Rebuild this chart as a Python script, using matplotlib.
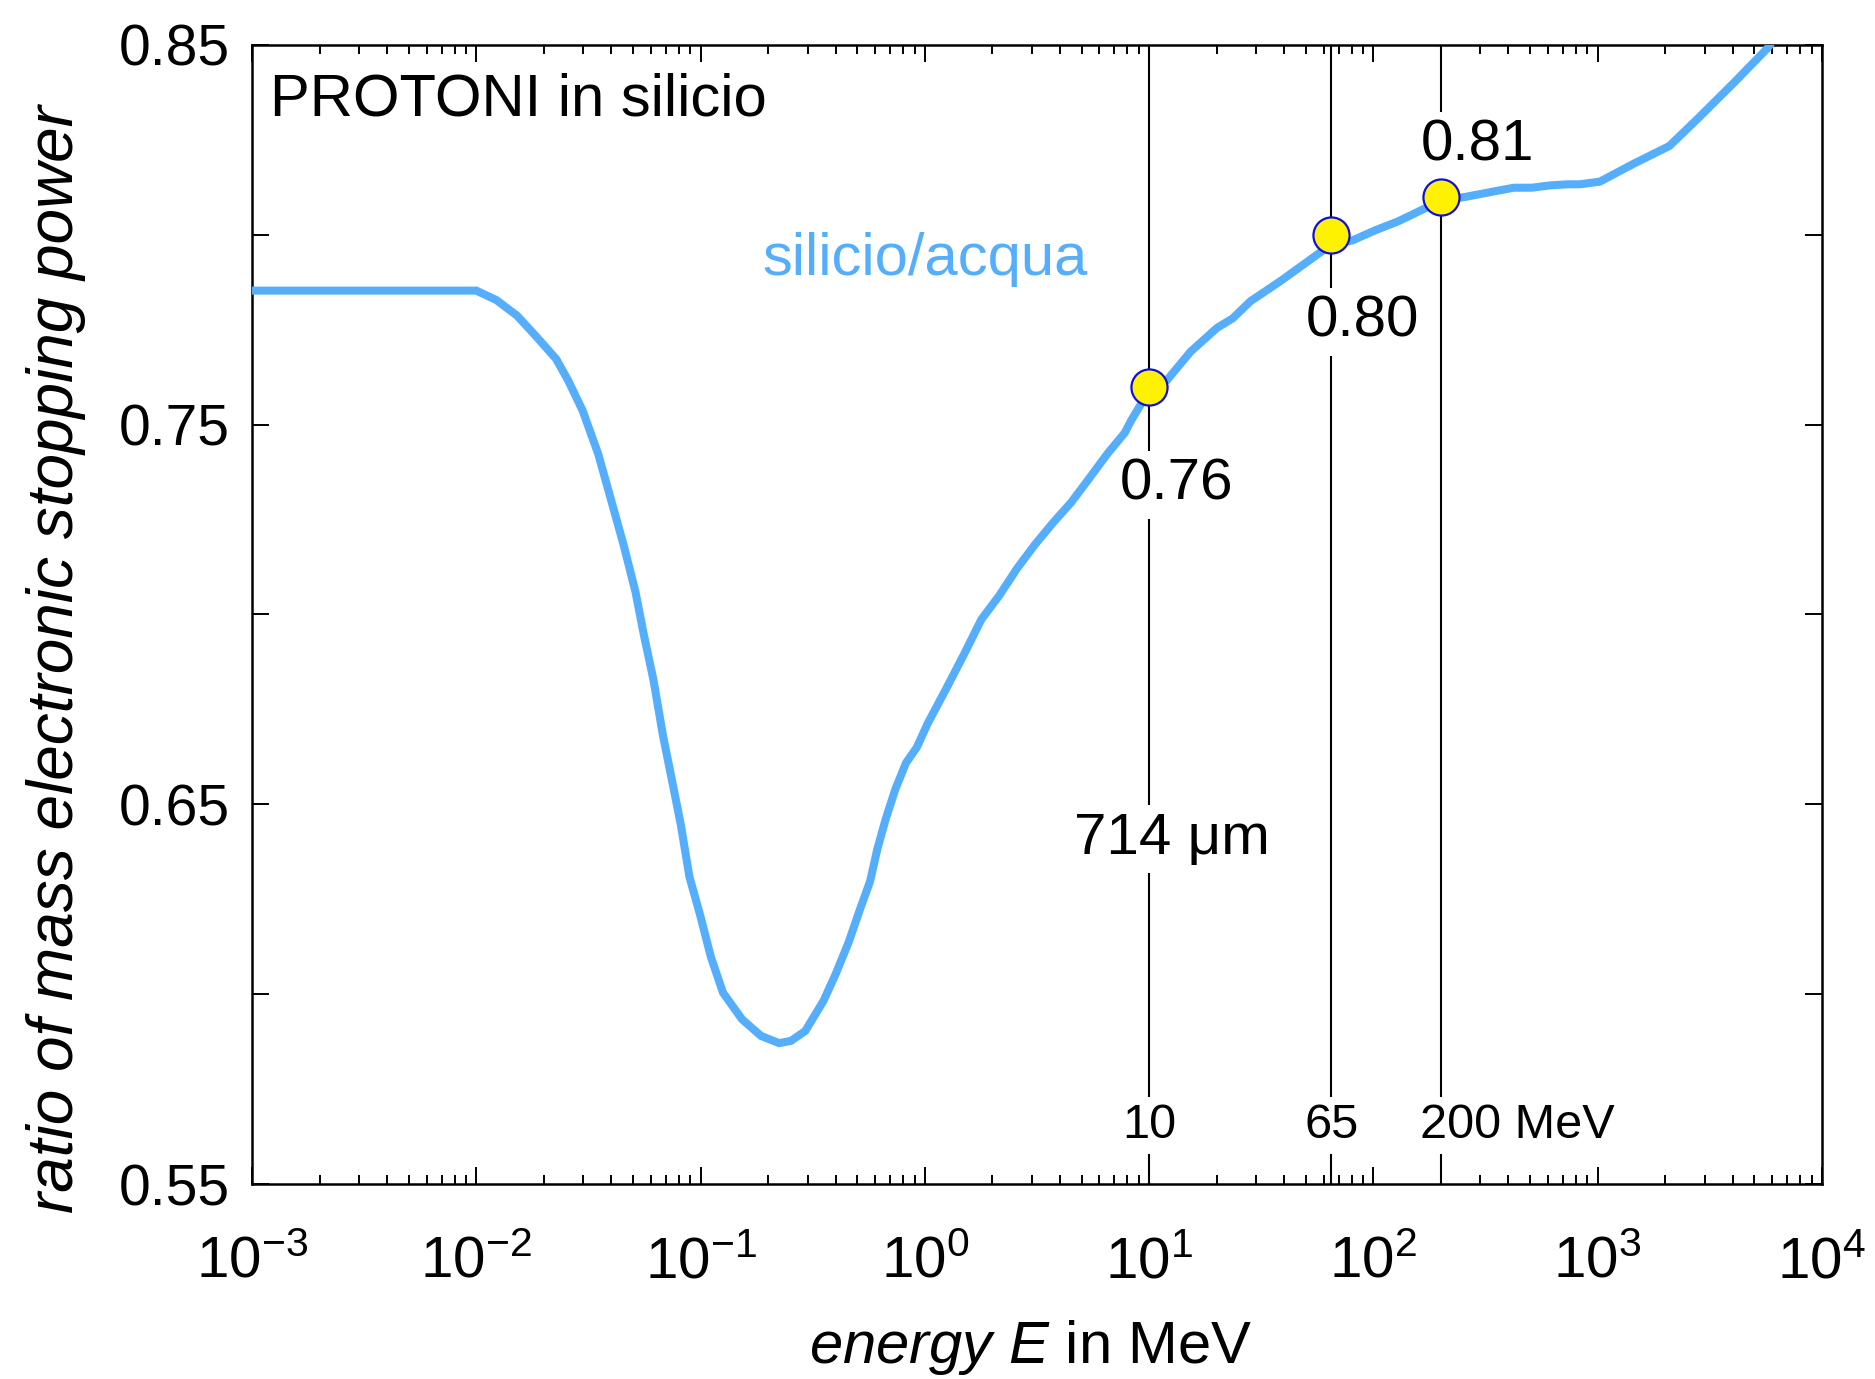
"""Silicon/water mass electronic stopping power ratio for protons."""

import numpy as _np
import matplotlib
matplotlib.use('Agg')
import matplotlib.pyplot as _plt
from matplotlib.ticker import FixedLocator, LogLocator, FuncFormatter

_plt.rcParams['font.family'] = ['Liberation Sans', 'DejaVu Sans']
_plt.rcParams['mathtext.fontset'] = 'custom'
_plt.rcParams['mathtext.rm'] = 'Liberation Sans'
_plt.rcParams['mathtext.it'] = 'Liberation Sans:italic'

# energy [MeV] and ratio silicio/acqua
energy = [1e-3, 1e-2, 0.0123, 0.0152, 0.01845, 0.0227, 0.0257, 0.0298, 0.035,
          0.0395, 0.0453, 0.0513, 0.0558, 0.0616, 0.068, 0.076, 0.0818,
          0.0892, 0.0996, 0.1112, 0.1259, 0.153, 0.186, 0.224, 0.253, 0.293,
          0.353, 0.399, 0.457, 0.51, 0.57, 0.614, 0.669, 0.738, 0.824, 0.921,
          1.03, 1.236, 1.486, 1.787, 2.148, 2.583, 3.105, 3.734, 4.49, 5.40,
          6.49, 7.80, 8.30, 10.0, 12.0, 15.3, 20.1, 23.6, 28.3, 38.5, 52.4,
          65.0, 80.5, 103.0, 128.5, 158.5, 200.0, 258.0, 343.0, 423.0, 508.0,
          611.0, 735.0, 832.0, 1023.0, 1445.0, 2089.0, 2840.0, 4105.0,
          5730.0, 6500.0]
ratio = [0.7853, 0.7853, 0.7828, 0.7787, 0.7733, 0.7673, 0.7616, 0.7537,
         0.7422, 0.7311, 0.7185, 0.7059, 0.6948, 0.6829, 0.6681, 0.6539,
         0.6444, 0.6309, 0.6208, 0.6098, 0.6004, 0.5934, 0.5890, 0.5871,
         0.5877, 0.5903, 0.5982, 0.6051, 0.6136, 0.6218, 0.6297, 0.6382,
         0.6461, 0.6539, 0.6609, 0.6650, 0.6713, 0.6801, 0.6892, 0.6987,
         0.7050, 0.7122, 0.7185, 0.7242, 0.7295, 0.7358, 0.7422, 0.7479,
         0.7510, 0.7590, 0.7617, 0.7692, 0.7755, 0.7780, 0.7825, 0.7878,
         0.7935, 0.7975, 0.7985, 0.8013, 0.8035, 0.8061, 0.8090, 0.8100,
         0.8114, 0.8124, 0.8124, 0.8130, 0.8133, 0.8133, 0.8140, 0.8187,
         0.8234, 0.8310, 0.8404, 0.8492, 0.8540]

# marked energies [MeV] and ratio there
mark_energy = [10, 65, 200]
mark_ratio = [0.76, 0.80, 0.81]
range_label = '714 \u03bcm'

y_labeled = [0.55, 0.65, 0.75, 0.85]
y_unlabeled = [0.60, 0.70, 0.80]

blue = '#55aefc'

fig = _plt.figure(figsize=(18.75, 13.79), dpi=100)
ax = fig.add_axes([0.1344, 0.1414, 0.8373, 0.8260])

# vertical guides behind everything
for e in mark_energy:
    ax.axvline(e, color='k', lw=1.5, zorder=1)

ax.plot(energy, ratio, color=blue, lw=5.8, zorder=3, solid_joinstyle='miter')
ax.plot(mark_energy, mark_ratio, 'o', ms=26, mfc='#fff200', mec='#1010d8',
        mew=1.6, zorder=4)

box = dict(boxstyle='square,pad=0.12', fc='white', ec='none')
txt = dict(fontsize=42, zorder=2, bbox=box)
ax.text(292.0, 0.8195, '{:.2f}'.format(mark_ratio[2]), ha='center',
        va='baseline', **txt)
ax.text(89.8, 0.7731, '{:.2f}'.format(mark_ratio[1]), ha='center',
        va='baseline', **txt)
ax.text(13.3, 0.7302, '{:.2f}'.format(mark_ratio[0]), ha='center',
        va='baseline', **txt)
ax.text(12.7, 0.6369, range_label, ha='center', va='baseline', **txt)

txt_e = dict(fontsize=35, zorder=2, va='baseline', bbox=box)
ax.text(mark_energy[0], 0.5621, '{}'.format(mark_energy[0]), ha='center',
        **txt_e)
ax.text(mark_energy[1], 0.5621, '{}'.format(mark_energy[1]), ha='center',
        **txt_e)
ax.text(161.3, 0.5621, '{} MeV'.format(mark_energy[2]), ha='left', **txt_e)

ax.text(0.0115, 0.9385, 'PROTONI in silicio', transform=ax.transAxes,
        fontsize=43, va='baseline', ha='left')
ax.text(0.1888, 0.7894, 'silicio/acqua', color=blue, fontsize=43,
        va='baseline', ha='left')

ax.set_xscale('log')
ax.set_xlim(1e-3, 1e4)
ax.set_ylim(0.55, 0.85)

ax.xaxis.set_major_locator(LogLocator(base=10, numticks=20))
ax.xaxis.set_minor_locator(LogLocator(base=10, subs=_np.arange(2, 10),
                                      numticks=100))
ax.xaxis.set_major_formatter(
    FuncFormatter(lambda v, p: r'$10^{%d}$' % int(round(_np.log10(v)))))
ax.yaxis.set_major_locator(FixedLocator(y_labeled))
ax.yaxis.set_minor_locator(FixedLocator(y_unlabeled))
ax.yaxis.set_major_formatter(FuncFormatter(lambda v, p: '{:.2f}'.format(v)))

ax.tick_params(which='both', direction='in', top=True, right=True,
               width=1.4, colors='k')
ax.tick_params(axis='x', which='major', length=12, labelsize=42, pad=37)
ax.tick_params(axis='x', which='minor', length=6.5)
ax.tick_params(axis='y', which='both', length=12, labelsize=41, pad=16)
for sp in ax.spines.values():
    sp.set_linewidth(1.8)

ax.set_xlabel(r'$\mathit{energy\ E}$ in MeV', fontsize=43, va='baseline')
ax.xaxis.set_label_coords(0.496, -0.157)
ax.set_ylabel('ratio of mass electronic stopping power', fontsize=46,
              fontstyle='italic', va='center')
ax.yaxis.set_label_coords(-0.125, 0.461)

fig.savefig('out.png', dpi=100)
